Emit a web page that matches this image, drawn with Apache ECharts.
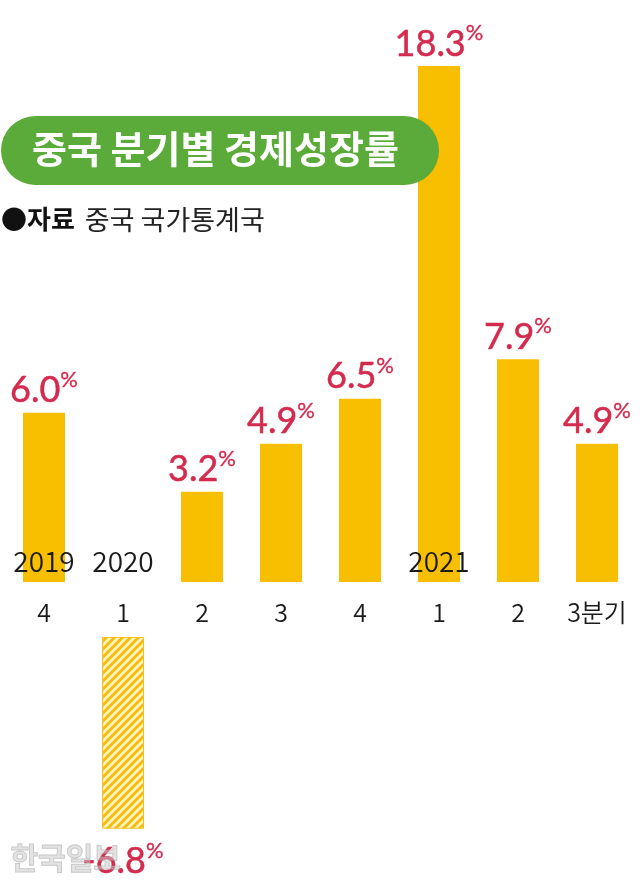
<!DOCTYPE html>
<html><head><meta charset="utf-8">
<script src="https://cdn.jsdelivr.net/npm/echarts@6/dist/echarts.min.js"></script>
<style>html,body{margin:0;padding:0;background:#fff;}#c{width:640px;height:890px;}</style>
</head><body><div id="c"></div>
<script>
const quarters = ['4', '1', '2', '3', '4', '1', '2', '3분기'];
const years = ['2019', '2020', '', '', '', '2021', '', ''];
const growth = [6.0, -6.8, 3.2, 4.9, 6.5, 18.3, 7.9, 4.9];

const title = '중국 분기별 경제성장률';
const sourceLabel = '●자료';
const sourceText = '중국 국가통계국';

const YELLOW = '#f8be00';
const RED = '#d42a4e';
const KR = '"Noto Sans CJK KR", "Noto Sans", sans-serif';
const NUM = 'Lato, "Noto Sans", sans-serif';

// hatch pattern for the negative bar
const tile = document.createElement('canvas');
tile.width = 8; tile.height = 8;
const tc = tile.getContext('2d');
tc.fillStyle = '#fff5c4'; tc.fillRect(0, 0, 8, 8);
tc.strokeStyle = '#f5bd10'; tc.lineWidth = 3;
tc.beginPath();
tc.moveTo(-2, 10); tc.lineTo(10, -2);
tc.moveTo(-6, 6); tc.lineTo(6, -6);
tc.moveTo(2, 14); tc.lineTo(14, 2);
tc.stroke();

const pos = growth.map(v => v >= 0 ? v : null);
const neg = growth.map(v => v < 0 ? v : null);

const richLabel = {
  n: { fontFamily: NUM, fontSize: 36, color: RED, lineHeight: 40, verticalAlign: 'bottom', textBorderColor: RED, textBorderWidth: 0.5 },
  p: { fontFamily: NUM, fontSize: 22, color: RED, lineHeight: 40, verticalAlign: 'top', padding: [0, 0, 0, 0], textBorderColor: RED, textBorderWidth: 0.3 }
};
const fmt = p => '{n|' + p.value.toFixed(1) + '}{p|%}';

const chart = echarts.init(document.getElementById('c'), null, { renderer: 'canvas' });
chart.setOption({
  animation: false,
  backgroundColor: '#fff',
  grid: [
    { left: 4.5, width: 632, top: 18, height: 564 },
    { left: 4.5, width: 632, top: 637, height: 225.6 }
  ],
  xAxis: [
    { gridIndex: 0, type: 'category', data: quarters, position: 'bottom',
      axisLine: { show: false }, axisTick: { show: false },
      axisLabel: { margin: 18, fontFamily: KR, fontSize: 25, color: '#1a1a1a', fontWeight: 350 } },
    { gridIndex: 0, type: 'category', data: years, position: 'bottom', z: 10,
      axisLine: { show: false }, axisTick: { show: false },
      axisLabel: { inside: true, margin: 7, fontFamily: KR, fontSize: 28, color: '#1a1a1a', fontWeight: 350, interval: 0 } },
    { gridIndex: 1, type: 'category', data: quarters, show: false }
  ],
  yAxis: [
    { gridIndex: 0, type: 'value', min: 0, max: 20, show: false },
    { gridIndex: 1, type: 'value', min: -8, max: 0, show: false }
  ],
  series: [
    { type: 'bar', xAxisIndex: 0, yAxisIndex: 0, data: pos, barWidth: 42, z: 2,
      itemStyle: { color: YELLOW },
      label: { show: true, position: 'top', distance: 4, formatter: fmt, rich: richLabel } },
    { type: 'bar', xAxisIndex: 2, yAxisIndex: 1, data: neg, barWidth: 42,
      itemStyle: { color: { image: tile, repeat: 'repeat' }, borderColor: '#f5c020', borderWidth: 1 },
      label: { show: true, position: 'bottom', distance: 11, formatter: fmt, rich: richLabel } }
  ],
  graphic: [
    { type: 'rect', z: 100, shape: { x: 1, y: 116, width: 438, height: 69, r: 34.5 }, style: { fill: '#5aab3a' } },
    { type: 'text', z: 101, left: 216 - 184, top: 130, style: { text: title, font: 'bold 38px ' + KR, fill: '#fff' } },
    { type: 'text', z: 101, left: 1, top: 206,
      style: { text: '{b|' + sourceLabel + '}   {r|' + sourceText + '}',
        rich: { b: { font: 'bold 26px ' + KR, fill: '#111' }, r: { font: '27px ' + KR, fill: '#222' } } } },
    { type: 'text', z: 101, left: 10, top: 842, style: { text: '한국일보', font: 'bold 30px ' + KR, fill: 'rgba(200,200,200,0.5)', stroke: 'rgba(150,150,150,0.5)', lineWidth: 1 } }
  ]
});
</script></body></html>
